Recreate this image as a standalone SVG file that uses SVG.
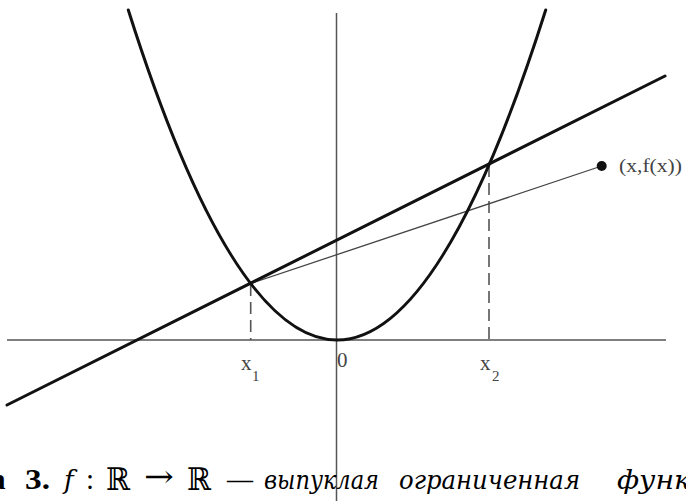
<svg xmlns="http://www.w3.org/2000/svg" width="686" height="501" viewBox="0 0 686 501">
<style>
.axis{stroke:#555;stroke-width:1.5;fill:none}
.curve{stroke:#111;stroke-width:3;fill:none;stroke-linecap:round}
.dash{stroke:#555;stroke-width:1.6;stroke-dasharray:12 6;fill:none}
.thin{stroke:#444;stroke-width:1.3;fill:none}
.lbl{font-family:"Liberation Serif","DejaVu Serif",serif;fill:#444}
.cap{font-family:"Liberation Serif","DejaVu Serif",serif;fill:#000;font-size:29px}
.it{font-family:"DejaVu Serif","Liberation Serif",serif;font-style:italic;fill:#000;font-size:26px}
.bb{font-family:"DejaVu Serif","Liberation Serif",serif;fill:#000;font-size:31px}
</style>
<rect width="686" height="501" fill="#fff"/>
<g id="axes">
<line class="axis" x1="7" y1="340" x2="666" y2="340"/>
<line class="axis" x1="336.5" y1="13" x2="336.5" y2="501"/>
</g>
<g id="connectors">
<line class="dash" x1="250.7" y1="284" x2="250.7" y2="340"/>
<line class="dash" x1="489" y1="165" x2="489" y2="340"/>
<line class="thin" x1="250.7" y1="283.5" x2="601.7" y2="166"/>
<line class="curve" x1="7" y1="405" x2="665" y2="76"/>
<path class="curve" d="M128.3,10 Q337,670 545.7,10"/>
</g>
<g id="point">
<circle cx="601.7" cy="166" r="5" fill="#111"/>
<text class="lbl" x="619" y="172" font-size="18" textLength="63" lengthAdjust="spacingAndGlyphs">(x,f(x))</text>
</g>
<g id="labels">
<text class="lbl" x="241" y="370" font-size="21">x</text>
<text class="lbl" x="252" y="381" font-size="15">1</text>
<text class="lbl" x="337" y="367" font-size="21">0</text>
<text class="lbl" x="480" y="370" font-size="21">x</text>
<text class="lbl" x="492" y="381" font-size="15">2</text>
</g>
<g id="caption">
<text class="cap" x="-9" y="489" font-weight="bold">а</text>
<text class="cap" x="25" y="489" font-weight="bold" textLength="25" lengthAdjust="spacingAndGlyphs">3.</text>
<text class="it" x="64" y="489" font-size="29">f</text>
<text class="cap" x="86" y="489">:</text>
<text class="bb" x="106" y="490" textLength="24" lengthAdjust="spacingAndGlyphs">ℝ</text>
<text class="bb" x="144" y="487" font-size="22" textLength="30" lengthAdjust="spacingAndGlyphs">→</text>
<text class="bb" x="187" y="490" textLength="24" lengthAdjust="spacingAndGlyphs">ℝ</text>
<text class="cap" x="227" y="489" textLength="26" lengthAdjust="spacingAndGlyphs">—</text>
<text class="it" x="264" y="489" textLength="115" lengthAdjust="spacingAndGlyphs">выпуклая</text>
<text class="it" x="399" y="489" textLength="181" lengthAdjust="spacingAndGlyphs">ограниченная</text>
<text class="it" x="617" y="489" textLength="74" lengthAdjust="spacingAndGlyphs">функ</text>
</g>
</svg>
